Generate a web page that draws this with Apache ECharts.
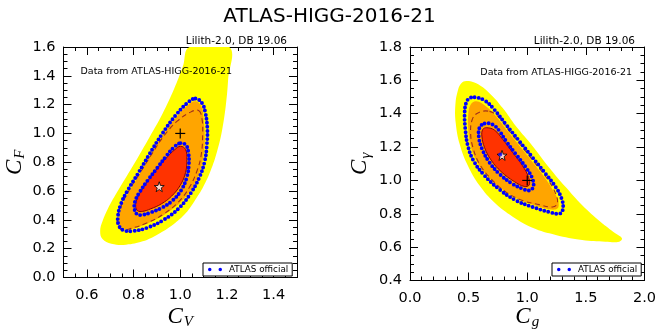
<!DOCTYPE html>
<html><head><meta charset="utf-8">
<script src="https://cdn.jsdelivr.net/npm/echarts@6/dist/echarts.min.js"></script>
<style>html,body{margin:0;padding:0;background:#fff}#c{width:659px;height:335px}</style>
</head><body><div id="c"></div>
<script>
// ---------- Left panel (C_V, C_F) ----------
const leftXMajor = [0.6, 0.8, 1.0, 1.2, 1.4];
const leftYellow = [[1.21,1.6],[1.205,1.374],[1.195,1.193],[1.178,1.012],[1.158,0.877],[1.130,0.741],[1.098,0.628],[1.064,0.538],[1.024,0.447],[0.970,0.368],[0.905,0.301],[0.839,0.251],[0.768,0.228],[0.705,0.235],[0.667,0.267],[0.657,0.323],[0.667,0.391],[0.691,0.481],[0.726,0.583],[0.768,0.696],[0.818,0.832],[0.870,0.979],[0.924,1.137],[0.973,1.306],[1.011,1.464],[1.040,1.6]];
const leftOrange = [[1.065,1.223],[1.090,1.189],[1.100,1.103],[1.105,0.967],[1.100,0.854],[1.085,0.741],[1.058,0.640],[1.011,0.538],[0.952,0.459],[0.881,0.391],[0.811,0.346],[0.768,0.334],[0.743,0.362],[0.737,0.414],[0.750,0.497],[0.778,0.588],[0.822,0.707],[0.870,0.843],[0.924,0.985],[0.980,1.107],[1.030,1.193]];
const leftRed = [[1.001,0.911],[1.023,0.888],[1.028,0.820],[1.023,0.730],[1.000,0.640],[0.963,0.565],[0.919,0.511],[0.874,0.477],[0.839,0.459],[0.818,0.463],[0.809,0.493],[0.814,0.542],[0.832,0.599],[0.864,0.678],[0.905,0.764],[0.945,0.838],[0.977,0.888]];
const leftDashed = [[1.079,1.159],[1.093,1.103],[1.096,0.990],[1.090,0.854],[1.072,0.741],[1.040,0.628],[0.994,0.527],[0.931,0.443],[0.860,0.380],[0.790,0.341],[0.754,0.330],[0.733,0.353],[0.730,0.402],[0.743,0.481],[0.775,0.588],[0.825,0.719],[0.879,0.859],[0.931,0.985],[0.987,1.085],[1.044,1.148]];
const leftBlueOuter = [[1.065,1.243],[1.093,1.211],[1.107,1.148],[1.116,1.035],[1.114,0.922],[1.105,0.809],[1.082,0.696],[1.044,0.583],[0.994,0.481],[0.931,0.402],[0.860,0.346],[0.797,0.323],[0.757,0.328],[0.737,0.362],[0.733,0.425],[0.747,0.515],[0.775,0.606],[0.818,0.719],[0.867,0.854],[0.924,1.001],[0.980,1.125],[1.030,1.211]];
const leftBlueInner = [[1.001,0.933],[1.025,0.918],[1.035,0.866],[1.037,0.786],[1.028,0.696],[1.004,0.606],[0.966,0.533],[0.921,0.484],[0.874,0.452],[0.836,0.434],[0.814,0.441],[0.804,0.475],[0.806,0.527],[0.825,0.590],[0.860,0.673],[0.903,0.764],[0.942,0.847],[0.973,0.904]];
const leftSM = [[1.0, 1.0]];
const leftBest = [[0.91, 0.63]];

// ---------- Right panel (C_g, C_gamma) ----------
const rightYellow = [[0.480,1.596],[0.565,1.582],[0.678,1.523],[0.791,1.434],[0.904,1.325],[1.045,1.207],[1.186,1.078],[1.328,0.960],[1.469,0.851],[1.624,0.752],[1.751,0.683],[1.808,0.653],[1.785,0.633],[1.667,0.633],[1.469,0.643],[1.243,0.673],[1.045,0.716],[0.876,0.782],[0.720,0.867],[0.593,0.969],[0.494,1.088],[0.424,1.217],[0.390,1.345],[0.387,1.454],[0.410,1.543],[0.438,1.582]];
const rightOrange = [[0.565,1.474],[0.650,1.444],[0.734,1.385],[0.833,1.296],[0.946,1.197],[1.059,1.098],[1.158,1.009],[1.229,0.930],[1.266,0.871],[1.257,0.831],[1.186,0.827],[1.045,0.855],[0.904,0.894],[0.763,0.960],[0.644,1.039],[0.559,1.128],[0.514,1.217],[0.497,1.306],[0.497,1.395],[0.517,1.454]];
const rightRed = [[0.655,1.316],[0.720,1.302],[0.791,1.246],[0.876,1.167],[0.960,1.088],[1.011,1.019],[1.017,0.973],[0.975,0.964],[0.890,0.993],[0.777,1.053],[0.692,1.122],[0.636,1.197],[0.613,1.266],[0.621,1.306]];
const rightDashed = [[0.678,1.414],[0.763,1.375],[0.847,1.296],[0.960,1.197],[1.073,1.098],[1.172,1.009],[1.243,0.920],[1.257,0.861],[1.215,0.841],[1.102,0.855],[0.960,0.880],[0.819,0.930],[0.692,1.009],[0.593,1.098],[0.537,1.197],[0.517,1.286],[0.531,1.365],[0.579,1.405]];
const rightBlueOuter = [[0.551,1.499],[0.636,1.480],[0.720,1.424],[0.819,1.335],[0.932,1.236],[1.045,1.138],[1.158,1.039],[1.243,0.960],[1.294,0.890],[1.305,0.831],[1.277,0.801],[1.186,0.811],[1.045,0.841],[0.904,0.880],[0.763,0.946],[0.636,1.029],[0.542,1.118],[0.494,1.207],[0.472,1.306],[0.466,1.405],[0.480,1.468],[0.508,1.493]];
const rightBlueInner = [[0.636,1.341],[0.706,1.335],[0.763,1.296],[0.819,1.236],[0.904,1.157],[0.989,1.078],[1.045,1.009],[1.051,0.960],[1.017,0.940],[0.960,0.950],[0.876,0.979],[0.763,1.039],[0.678,1.108],[0.616,1.187],[0.588,1.256],[0.593,1.316]];
const rightSM = [[1.0, 1.0]];
const rightBest = [[0.785, 1.15]];
const rightAtlasBest = [[0.77, 1.155]];

const YELLOW = '#ffff00', ORANGE = '#ffa500', RED = '#ff3300', BLUE = '#0000ff';
const FONT = 'DejaVu Sans';
const starPath = 'path://M0,-10L2.35,-3.24L9.51,-3.09L3.8,1.24L5.88,8.09L0,4L-5.88,8.09L-3.8,1.24L-9.51,-3.09L-2.35,-3.24Z';
const dotsPath = 'path://M1.75,0A1.75,1.75,0,1,1,1.75,3.5A1.75,1.75,0,1,1,1.75,0ZM12.25,0A1.75,1.75,0,1,1,12.25,3.5A1.75,1.75,0,1,1,12.25,0Z';

function region(name, xi, yi, pts, style) {
  return {
    type: 'custom', name: name, xAxisIndex: xi, yAxisIndex: yi, clip: true, silent: true,
    itemStyle: { color: style.fill !== 'none' ? style.fill : style.stroke },
    data: [pts[0]],
    renderItem: function (params, api) {
      return {
        type: 'polygon',
        shape: { points: pts.map(p => api.coord(p)), smooth: 0.4 },
        style: style
      };
    }
  };
}
function plus(xi, yi, pts) {
  return {
    type: 'custom', name: 'SM', xAxisIndex: xi, yAxisIndex: yi, silent: true, data: pts,
    renderItem: function (params, api) {
      const p = api.coord([api.value(0), api.value(1)]);
      const s = { stroke: '#000', lineWidth: 1.2 };
      return { type: 'group', children: [
        { type: 'line', shape: { x1: p[0] - 5, y1: p[1], x2: p[0] + 5, y2: p[1] }, style: s },
        { type: 'line', shape: { x1: p[0], y1: p[1] - 5, x2: p[0], y2: p[1] + 5 }, style: s }
      ]};
    }
  };
}
function star(xi, yi, pts) {
  return { type: 'scatter', name: 'best', xAxisIndex: xi, yAxisIndex: yi, silent: true, data: pts,
    symbol: starPath, symbolSize: 10, itemStyle: { color: '#fff', borderColor: '#000', borderWidth: 1 } };
}
function dot(xi, yi, pts) {
  return { type: 'scatter', name: 'atlasbest', xAxisIndex: xi, yAxisIndex: yi, silent: true, data: pts,
    symbol: 'circle', symbolSize: 4, itemStyle: { color: BLUE } };
}
function panelSeries(xi, yi, Y, O, R, D, BO, BI, SM, BEST) {
  const dotStyle = { fill: 'none', stroke: BLUE, lineWidth: 3.9, lineDash: [0, 4.1], lineCap: 'round' };
  return [
    region('y', xi, yi, Y, { fill: YELLOW, stroke: 'none' }),
    region('o', xi, yi, O, { fill: ORANGE, stroke: 'none' }),
    region('r', xi, yi, R, { fill: RED, stroke: '#8b0000', lineWidth: 1 }),
    region('d', xi, yi, D, { fill: 'none', stroke: '#a0301c', lineWidth: 1.1, lineDash: [5, 3.5] }),
    region('ATLAS official', xi, yi, BO, dotStyle),
    region('ATLAS official', xi, yi, BI, dotStyle),
    plus(xi, yi, SM),
    star(xi, yi, BEST)
  ];
}

const axisLineS = { show: true, onZero: false, lineStyle: { color: '#000', width: 1 } };
const labelS = { color: '#000', fontSize: 14.5, fontFamily: FONT, formatter: v => Number(v).toFixed(1), showMinLabel: true, showMaxLabel: true };
const richName = {
  c: { fontFamily: 'Liberation Serif', fontStyle: 'italic', fontSize: 23, lineHeight: 24, color: '#000' },
  s: { fontFamily: 'Liberation Serif', fontStyle: 'italic', fontSize: 15, lineHeight: 15, padding: [12, 0, 0, 1], color: '#000' }
};
function mkAxis(o) {
  return Object.assign({
    type: 'value', axisLine: axisLineS, splitLine: { show: false },
    axisTick: { show: true, inside: true, length: 8, lineStyle: { color: '#000', width: 1 } },
    minorTick: { show: false },
    axisLabel: { show: false }
  }, o);
}
const minorT = n => ({ show: true, splitNumber: n, length: 4, lineStyle: { color: '#000', width: 1 } });

const option = {
  backgroundColor: '#fff',
  animation: false,
  title: { text: 'ATLAS-HIGG-2016-21', left: 'center', top: 2, textStyle: { fontSize: 20, fontWeight: 'normal', fontFamily: FONT, color: '#000' } },
  grid: [
    { left: 62, top: 47, width: 235, height: 236, containLabel: false },
    { left: 410, top: 47, width: 235, height: 236, containLabel: false }
  ],
  xAxis: [
    mkAxis({ gridIndex: 0, position: 'bottom', min: 0.5, max: 1.5,
      axisTick: { show: true, inside: true, length: 8, customValues: leftXMajor, lineStyle: { color: '#000' } },
      axisLabel: Object.assign({}, labelS, { show: true, margin: 10, customValues: leftXMajor }),
      name: '{c|C}{s|V}', nameLocation: 'middle', nameGap: 27, nameMoveOverlap: false, nameTextStyle: { rich: richName } }),
    mkAxis({ gridIndex: 0, position: 'top', min: 0.5, max: 1.5,
      axisTick: { show: true, inside: true, length: 8, customValues: leftXMajor, lineStyle: { color: '#000' } } }),
    mkAxis({ gridIndex: 0, position: 'bottom', min: 0.5, max: 1.5, interval: 0.05,
      axisTick: { show: true, inside: true, length: 4, lineStyle: { color: '#000' } } }),
    mkAxis({ gridIndex: 0, position: 'top', min: 0.5, max: 1.5, interval: 0.05,
      axisTick: { show: true, inside: true, length: 4, lineStyle: { color: '#000' } } }),
    mkAxis({ gridIndex: 1, position: 'bottom', min: 0, max: 2, interval: 0.5, minorTick: minorT(5),
      axisLabel: Object.assign({}, labelS, { show: true, margin: 10 }),
      name: '{c|C}{s|g}', nameLocation: 'middle', nameGap: 24, nameMoveOverlap: false, nameTextStyle: { rich: richName } }),
    mkAxis({ gridIndex: 1, position: 'top', min: 0, max: 2, interval: 0.5, minorTick: minorT(5) })
  ],
  yAxis: [
    mkAxis({ gridIndex: 0, position: 'left', min: 0, max: 1.6, interval: 0.2, minorTick: minorT(4),
      axisLabel: Object.assign({}, labelS, { show: true, margin: 8 }),
      name: '{c|C}{s|F}', nameLocation: 'middle', nameGap: 37, nameMoveOverlap: false, nameTextStyle: { rich: richName } }),
    mkAxis({ gridIndex: 0, position: 'right', min: 0, max: 1.6, interval: 0.2, minorTick: minorT(4) }),
    mkAxis({ gridIndex: 1, position: 'left', min: 0.4, max: 1.8, interval: 0.2, minorTick: minorT(4),
      axisLabel: Object.assign({}, labelS, { show: true, margin: 8 }),
      name: '{c|C}{s|γ}', nameLocation: 'middle', nameGap: 38, nameMoveOverlap: false, nameTextStyle: { rich: richName } }),
    mkAxis({ gridIndex: 1, position: 'right', min: 0.4, max: 1.8, interval: 0.2, minorTick: minorT(4) })
  ],
  legend: [0, 1].map(i => ({
    data: [{ name: 'ATLAS official', icon: dotsPath }],
    left: i === 0 ? 203 : 552, top: 263, orient: 'horizontal',
    itemWidth: 14, itemHeight: 3.5, itemGap: 4, selectedMode: false,
    padding: [2, 4, 2, 5], backgroundColor: '#fff', borderColor: '#000', borderWidth: 1, borderRadius: 0,
    itemStyle: { color: BLUE, borderWidth: 0 },
    textStyle: { fontSize: 8.8, fontFamily: FONT, color: '#000', padding: [0, 0, 0, 2] },
    z: 50
  })),
  graphic: [
    { type: 'text', x: 287, y: 41, z: 100, style: { text: 'Lilith-2.0, DB 19.06', align: 'right', verticalAlign: 'middle', font: '10.5px "DejaVu Sans"', fill: '#000' } },
    { type: 'text', x: 635, y: 41, z: 100, style: { text: 'Lilith-2.0, DB 19.06', align: 'right', verticalAlign: 'middle', font: '10.5px "DejaVu Sans"', fill: '#000' } },
    { type: 'text', x: 80.5, y: 71.5, z: 100, style: { text: 'Data from ATLAS-HIGG-2016-21', align: 'left', verticalAlign: 'middle', font: '9.5px "DejaVu Sans"', fill: '#000' } },
    { type: 'text', x: 632, y: 73, z: 100, style: { text: 'Data from ATLAS-HIGG-2016-21', align: 'right', verticalAlign: 'middle', font: '9.5px "DejaVu Sans"', fill: '#000' } }
  ],
  series: [].concat(
    panelSeries(0, 0, leftYellow, leftOrange, leftRed, leftDashed, leftBlueOuter, leftBlueInner, leftSM, leftBest),
    panelSeries(4, 2, rightYellow, rightOrange, rightRed, rightDashed, rightBlueOuter, rightBlueInner, rightSM, rightBest),
    [dot(4, 2, rightAtlasBest)]
  )
};
const chart = echarts.init(document.getElementById('c'), null, { renderer: 'canvas' });
chart.setOption(option);
</script>
</body></html>
